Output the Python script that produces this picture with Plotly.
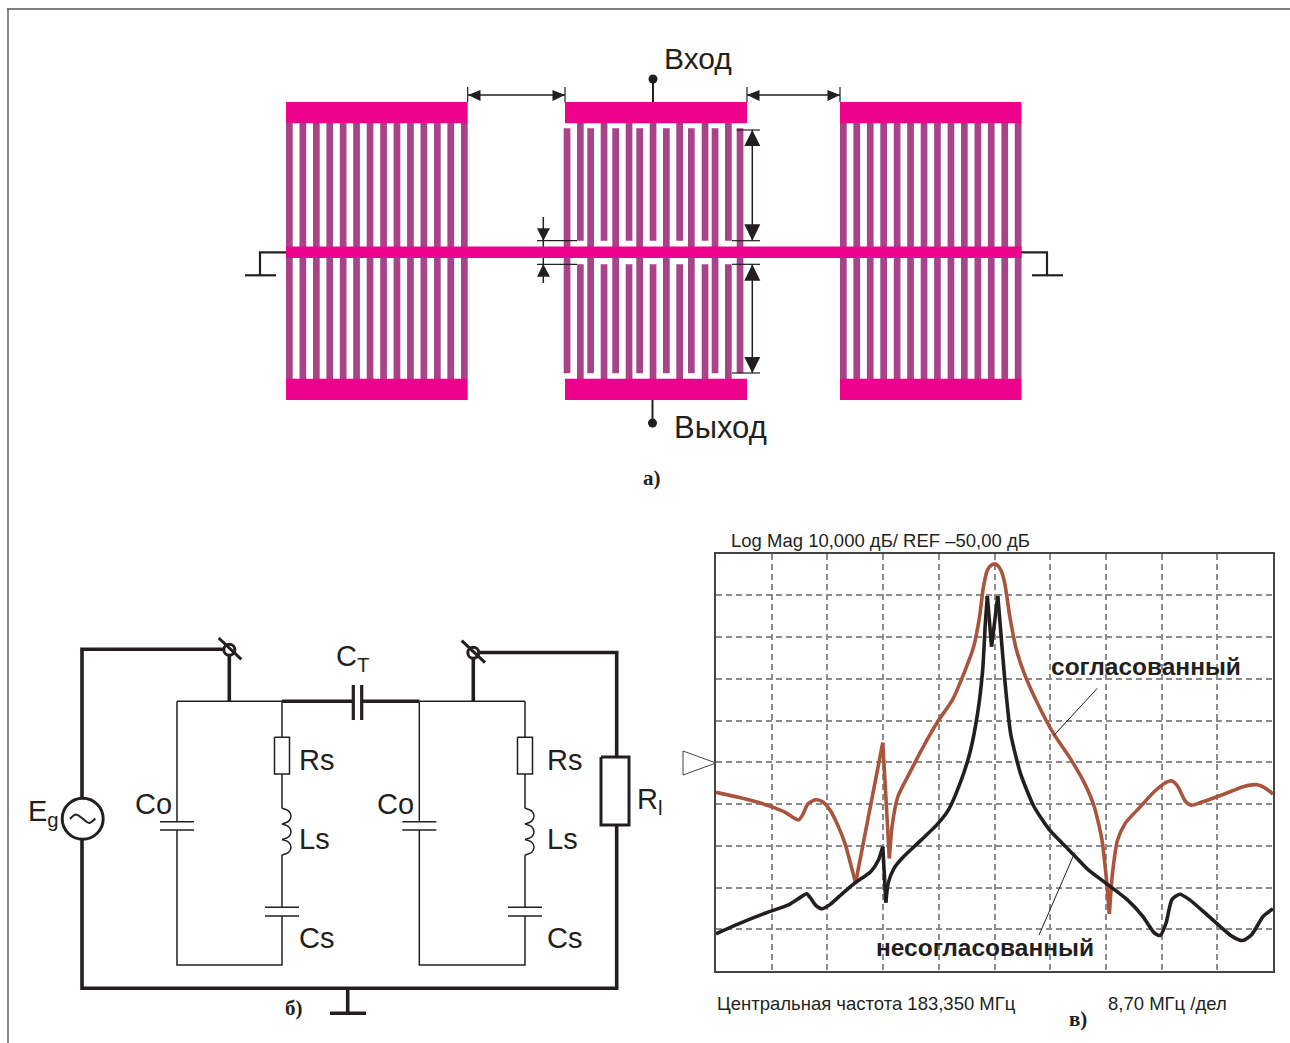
import plotly.graph_objects as go

W, H = 1290, 1043
PINK, FINGER, INK = "#EC008C", "#A8438A", "#231F20"
BROWN, GRID = "#A9553D", "#8C8C8C"

# ---- measured response (а chart values) ----
brown_freq = [139.85,143.37,146.41,148.84,150.66,152.17,152.78,153.39,154.18,155.39,156.42,157.64,158.85,160.07,160.98,161.65,
              165.90,166.93,167.35,168.26,170.08,172.51,174.64,176.76,178.58,180.10,181.01,181.62,182.23,182.83,183.32,183.80,
              184.35,184.96,185.75,186.78,187.99,189.82,192.55,194.98,197.40,198.92,200.14,200.74,201.29,201.78,202.57,203.78,
              205.91,208.33,210.15,211.13,211.98,213.19,214.10,215.62,219.26,222.30,224.42,225.64,226.85]
brown_db = [-57.2,-58.4,-59.6,-60.8,-62.0,-63.5,-63.8,-62.6,-60.0,-59.0,-59.4,-61.4,-65.0,-69.8,-75.0,-78.9,
            -45.3,-73.0,-65.4,-58.2,-52.6,-45.5,-39.9,-35.1,-28.7,-22.3,-15.2,-8.0,-4.0,-2.8,-2.55,-2.8,
            -4.0,-7.2,-15.2,-23.1,-28.7,-35.1,-43.1,-48.6,-55.0,-60.6,-68.6,-76.6,-86.3,-76.6,-68.6,-64.6,
            -61.0,-57.0,-54.8,-54.5,-55.8,-59.4,-60.3,-59.6,-57.6,-55.8,-55.4,-56.2,-57.6]
brown_cusps = [161.65, 165.90, 166.93, 201.29]
black_freq = [139.85,143.37,147.62,151.26,153.09,154.00,154.60,155.51,156.42,157.64,159.76,161.58,164.01,165.23,165.90,
              166.38,166.75,167.66,169.17,171.91,174.33,176.16,177.98,179.50,180.71,181.50,181.92,182.23,182.89,183.87,
              184.35,184.96,185.87,187.39,189.51,191.94,194.98,198.01,201.05,204.08,206.51,208.33,209.24,210.15,211.06,
              212.28,213.80,216.83,220.47,222.11,223.51,225.33,226.85]
black_db = [-91.1,-88.7,-86.1,-84.1,-82.3,-81.5,-82.5,-84.4,-85.1,-84.1,-81.2,-78.9,-76.2,-73.4,-70.2,
            -83.6,-78.9,-75.4,-72.6,-68.6,-65.0,-61.4,-55.0,-47.8,-38.3,-27.9,-16.7,-10.2,-22.3,-10.2,
            -19.1,-30.3,-43.1,-52.6,-60.6,-66.2,-71.0,-75.8,-79.3,-82.9,-86.9,-90.9,-91.5,-88.5,-82.9,
            -81.6,-82.9,-86.9,-91.7,-92.7,-91.3,-86.9,-85.1]
black_cusps = [165.90, 166.38, 182.23, 182.89, 183.87]
freq_start, freq_stop, freq_div = 139.85, 226.85, 8.70
db_bottom, db_top, db_div = -100, 0, 10

# ---- electrode layout (а) ----
outer_left_edges = [286,299.5,313,326.4,339.8,353.2,366.7,380.2,393.6,407.1,420.5,434,447.4,461]
outer_right_edges = [840,853.4,866.9,880.3,893.8,907.2,920.7,934.1,947.6,961,974.5,987.9,1001.4,1014.8]
centre_bar_edges = [577,600.7,625.7,649.7,676.3,701.7,725]
centre_bus_edges = [563.7,587.3,612.3,636.3,663,688,711.7,736.7]
finger_w = 6.7
bars = [(286,467.7,102,123.3),(565,747,102,123.3),(840,1021.5,102,123.3),
        (286,467.7,378.7,400),(565,747,378.7,400),(840,1021.5,378.7,400),(286,1021.5,246.5,258)]

# ---- labels ----
texts = [
    ("Вход",662,58,30,False),("Выход",672,427,31,False),
    ("E<sub>g</sub>",26,813,29,False),("Co",133,804,29,False),("Co",375,804,29,False),
    ("Rs",297,760,29,False),("Ls",297,839,29,False),("Cs",297,938,29,False),
    ("Rs",545,760,29,False),("Ls",545,839,29,False),("Cs",545,938,29,False),
    ("C<sub>T</sub>",334,658,29,False),("R<sub>l</sub>",635,801,29,False),
    ("Log Mag 10,000 дБ/ REF –50,00 дБ",729,540,18.5,False),
    ("Центральная частота 183,350 МГц",715,1003,18.5,False),("8,70 МГц /дел",1106,1003,18.5,False),
    ("согласованный",1049,666,24.5,True),("несогласованный",874,947,24.5,True),
]
part_labels = [("а)",641,478),("б)",283,1008),("в)",1067,1019)]

fig = go.Figure()

def line(pts, w=1.5, color=INK, shape="linear"):
    fig.add_trace(go.Scatter(x=[p[0] for p in pts], y=[p[1] for p in pts], mode="lines",
                             line=dict(color=color, width=w, shape=shape), hoverinfo="skip", cliponaxis=False))

def rects(boxes, color):
    xs, ys = [], []
    for x0, x1, y0, y1 in boxes:
        xs += [x0, x1, x1, x0, x0, None]
        ys += [y0, y0, y1, y1, y0, None]
    fig.add_trace(go.Scatter(x=xs, y=ys, mode="none", fill="toself", fillcolor=color, hoverinfo="skip"))

def tris(items, color=INK, outline=None):
    xs, ys = [], []
    for t in items:
        for p in list(t) + [t[0]]:
            xs.append(p[0]); ys.append(p[1])
        xs.append(None); ys.append(None)
    fig.add_trace(go.Scatter(x=xs, y=ys, mode="lines" if outline else "none", fill="toself", fillcolor=color,
                             line=dict(color=outline or color, width=1), hoverinfo="skip"))

def dot(x, y, size, fill=INK, lw=0):
    fig.add_trace(go.Scatter(x=[x], y=[y], mode="markers", hoverinfo="skip", cliponaxis=False,
                             marker=dict(symbol="circle", size=size, color=fill, line=dict(color=INK, width=lw))))

def boxed(x0, x1, y0, y1, w=1.5):
    fig.add_trace(go.Scatter(x=[x0,x1,x1,x0,x0], y=[y0,y0,y1,y1,y0], mode="lines", fill="toself", fillcolor="white",
                             line=dict(color=INK, width=w), hoverinfo="skip"))

def inductor(x, y0, bump=15.6, bulge=9):
    for i in range(3):
        a = y0 + i * bump
        line([(x,a),(x+bulge*.75,a+bump*.18),(x+bulge,a+bump*.5),(x+bulge*.75,a+bump*.82),(x,a+bump)], 1.5, shape="spline")

# page frame
line([(8,1043),(8,9)], 2, "#888888")
line([(7,9),(1290,9)], 1.5, "#555555")

# electrodes (а)
rects([(e, e+finger_w, 123, 379) for e in outer_left_edges + outer_right_edges], FINGER)
rects([(e, e+finger_w, 123, 240.7) for e in centre_bar_edges] +
      [(e, e+finger_w, 264.3, 379) for e in centre_bar_edges] +
      [(e, e+finger_w, 128.3, 373.3) for e in centre_bus_edges], FINGER)
line([(543.3,217),(543.3,283)], 1.5)
rects(bars, PINK)

line([(653,79),(653,102)], 2)
line([(652.5,400),(652.5,423)], 2)
dot(653,79,9); dot(652.5,423,9)
for x in (467.7,565,747,840):
    line([(x,87),(x,102)], 1.2)
line([(468,95),(565,95)], 1.5); line([(747,95),(840,95)], 1.5)
line([(286,252.3),(260,252.3),(260,275.3)], 2.2); line([(245,275.3),(276,275.3)], 2.2)
line([(1021,252.3),(1047,252.3),(1047,275.3)], 2.2); line([(1032,275.3),(1063,275.3)], 2.2)
for y, x0 in ((130,736.7),(240.7,732),(264.3,732),(373,732)):
    line([(x0,y),(760,y)], 1.2)
for y in (240.7,264.3):
    line([(537,y),(577,y)], 1.2)
line([(752.3,130),(752.3,240.7)], 1.5); line([(752.3,264.3),(752.3,373)], 1.5)
tris([
    [(468,95),(480.5,90),(480.5,101)],[(565,95),(552.5,90),(552.5,101)],
    [(747,95),(759.5,90),(759.5,101)],[(840,95),(827.5,90),(827.5,101)],
    [(752.3,130),(744.3,146),(760.3,146)],[(752.3,240.7),(744.3,224.3),(760.3,224.3)],
    [(752.3,264.3),(744.3,280.7),(760.3,280.7)],[(752.3,373),(744.3,357),(760.3,357)],
    [(543.3,240.7),(537,228.3),(550,228.3)],[(543.3,264.3),(537,276.7),(550,276.7)],
])

# circuit (б): thick loop
T = 3.6
line([(82,840),(82,988.3),(616.7,988.3),(616.7,652.5),(473.3,652.5)], T)
line([(82,797),(82,649.3),(229.3,649.3)], T)
line([(229.3,649.3),(229.3,701.3)], T)
line([(473.3,652.5),(473.3,701.3)], T)
line([(347.7,988),(347.7,1013.3)], T); line([(330,1013.3),(366,1013.3)], T)
line([(177,701.3),(282,701.3)], 1.5); line([(282,701.3),(353.3,701.3)], T)
line([(361.7,701.3),(419.3,701.3)], T); line([(419.3,701.3),(525,701.3)], 1.5)
line([(353.3,685),(353.3,720)], 3.2); line([(361.7,685),(361.7,720)], 3.2)
dot(229.3,649.7,11,"white",3); dot(473.3,652.7,11,"white",3)
line([(218.7,638),(241.3,659.3)], 3); line([(461.7,640.7),(485,662.7)], 3)
dot(82.7,818.7,41,"white",3)
line([(70,819),(76,814.5),(82.7,818.7),(89,823),(95.3,818.5)], 2, shape="spline")
boxed(601,629,757,825,3)

for cx0, x_leg, x_rail in ((177,282,282),(419.3,525,525)):
    line([(cx0,701.3),(cx0,821.7)], 1.5)
    line([(cx0-17,821.7),(cx0+17,821.7)], 1.5); line([(cx0-17,830),(cx0+17,830)], 1.5)
    line([(cx0,830),(cx0,965),(x_rail,965),(x_rail,916)], 1.5)
    line([(x_rail-17,907.3),(x_rail+17,907.3)], 1.5); line([(x_rail-17,916),(x_rail+17,916)], 1.5)
    line([(x_rail,907.3),(x_rail,855)], 1.5)
    inductor(x_rail, 808.3)
    line([(x_rail,808.3),(x_rail,774)], 1.5); line([(x_rail,737.3),(x_rail,701.3)], 1.5)
    boxed(x_rail-7.5,x_rail+7.5,737.3,774)

# marker triangle, leaders
tris([[(683,751),(716,763),(683,775)]], "white", "#444444")

# measured curves (в)
def curve(xs, ys, cusps, color):
    start = 0
    ends = [xs.index(c) for c in cusps] + [len(xs)-1]
    for e in ends:
        fig.add_trace(go.Scatter(x=xs[start:e+1], y=ys[start:e+1], xaxis="x2", yaxis="y2", mode="lines", hoverinfo="skip",
                                 line=dict(color=color, width=3.6, shape="spline", smoothing=0.6)))
        start = e
curve(brown_freq, brown_db, brown_cusps, BROWN)
curve(black_freq, black_db, black_cusps, INK)

def leader(a, b):
    fig.add_trace(go.Scatter(x=[a[0],b[0]], y=[a[1],b[1]], xaxis="x2", yaxis="y2", mode="lines", hoverinfo="skip",
                             line=dict(color=INK, width=1)))
leader((199.4,-32.3),(192.6,-43.6))
leader((195.9,-71.6),(190.3,-91.4))

annotations = [dict(text=t, x=x, y=y, xref="x", yref="y", xanchor="left", yanchor="middle", showarrow=False,
                    font=dict(family="Liberation Sans", size=s, color=INK, weight="bold" if b else "normal"))
               for t, x, y, s, b in texts]
annotations += [dict(text=t, x=x, y=y, xref="x", yref="y", xanchor="left", yanchor="middle", showarrow=False,
                     font=dict(family="Liberation Sans Narrow", size=21, color=INK, weight="bold"))
                for t, x, y in part_labels]

fig.update_layout(
    width=W, height=H, margin=dict(l=0, r=0, t=0, b=0), paper_bgcolor="white", plot_bgcolor="rgba(0,0,0,0)",
    showlegend=False, annotations=annotations,
    xaxis=dict(domain=[0,1], range=[0,W], visible=False, fixedrange=True),
    yaxis=dict(domain=[0,1], range=[H,0], visible=False, fixedrange=True),
    xaxis2=dict(domain=[716/W,1273/W], range=[freq_start,freq_stop], anchor="y2", tick0=freq_start, dtick=freq_div,
                showticklabels=False, ticks="", showgrid=True, gridcolor=GRID, griddash="6px,4px", gridwidth=1.5,
                zeroline=False, showline=True, mirror=True, linecolor="#444444", linewidth=1.5),
    yaxis2=dict(domain=[(H-971)/H,(H-553.5)/H], range=[db_bottom,db_top], anchor="x2", tick0=db_bottom, dtick=db_div,
                showticklabels=False, ticks="", showgrid=True, gridcolor=GRID, griddash="6px,4px", gridwidth=1.5,
                zeroline=False, showline=True, mirror=True, linecolor="#444444", linewidth=1.5),
)
fig.write_html("out.html", config={"displayModeBar": False},
               post_script="document.body.style.margin='0';document.documentElement.style.overflow='hidden';")
